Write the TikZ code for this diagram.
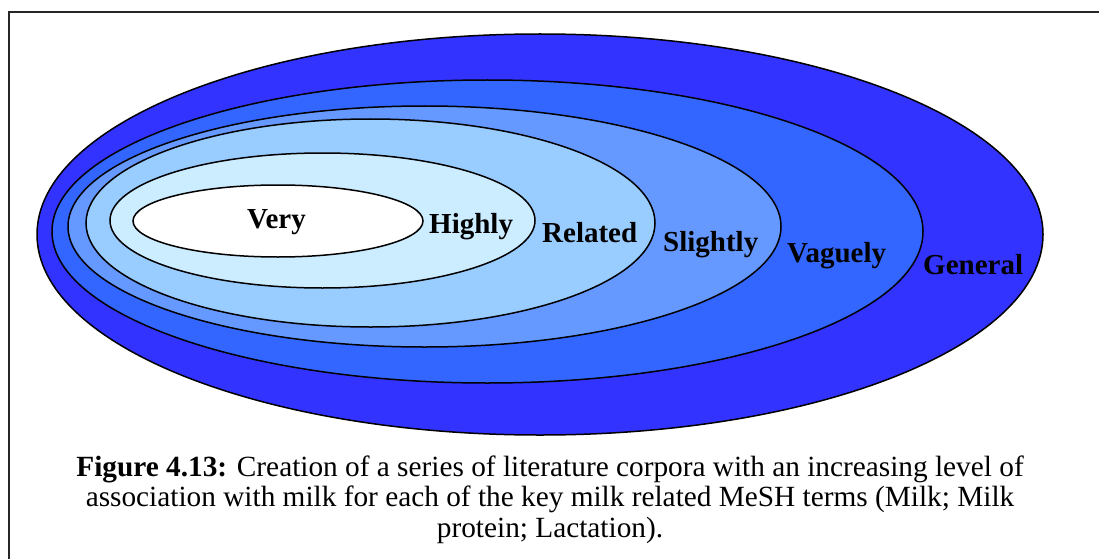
\documentclass[tikz,border=0pt]{standalone}
\usepackage{fontspec}
\setmainfont{Liberation Serif}
\definecolor{general}{HTML}{3333FF}
\definecolor{vaguely}{HTML}{3366FF}
\definecolor{slightly}{HTML}{6699FF}
\definecolor{related}{HTML}{99CCFF}
\definecolor{highly}{HTML}{CCECFF}
\begin{document}
\begin{tikzpicture}[x=1pt,y=-1pt,
  ring/.style={draw=black,line width=1.5pt},
  lvl/.style={anchor=base west,inner sep=0pt,font=\fontsize{29}{29}\selectfont\bfseries},
  capline/.style={anchor=base,inner sep=0pt,font=\fontsize{29.3}{29.3}\selectfont}]
\useasboundingbox (0,0) rectangle (1099,559);
% open frame: top and left edges
\draw[line width=1.6pt,black!85] (1099,12) -- (9,12) -- (9,559);
% nested levels of association, outermost first
\filldraw[ring,fill=general]  (540,234.5) ellipse [x radius=503pt,y radius=200.5pt];
\filldraw[ring,fill=vaguely]  (487.5,231.5) ellipse [x radius=435.5pt,y radius=151.5pt];
\filldraw[ring,fill=slightly] (424.5,226.5) ellipse [x radius=356.5pt,y radius=120.5pt];
\filldraw[ring,fill=related]  (370.5,223) ellipse [x radius=284.5pt,y radius=104pt];
\filldraw[ring,fill=highly]   (322.5,220.5) ellipse [x radius=212.5pt,y radius=67.5pt];
\filldraw[ring,fill=white]    (278,221) ellipse [x radius=145pt,y radius=36pt];
% level labels
\node[lvl] (very)     at (247,228) {Very};
\node[lvl] (highlyl)  at (429,233) {Highly};
\node[lvl] (relatedl) at (542,242) {Related};
\node[lvl] (slightl)  at (663,251) {Slightly};
\node[lvl] (vaguel)   at (787,262) {Vaguely};
\node[lvl] (generall) at (923,274) {General};
% caption
\node[capline] (cap1) at (550,476) {\textbf{Figure 4.13:} Creation of a series of literature corpora with an increasing level of};
\node[capline] (cap2) at (550,506) {association with milk for each of the key milk related MeSH terms (Milk; Milk};
\node[capline] (cap3) at (550,537) {protein; Lactation).};
\end{tikzpicture}
\end{document}
